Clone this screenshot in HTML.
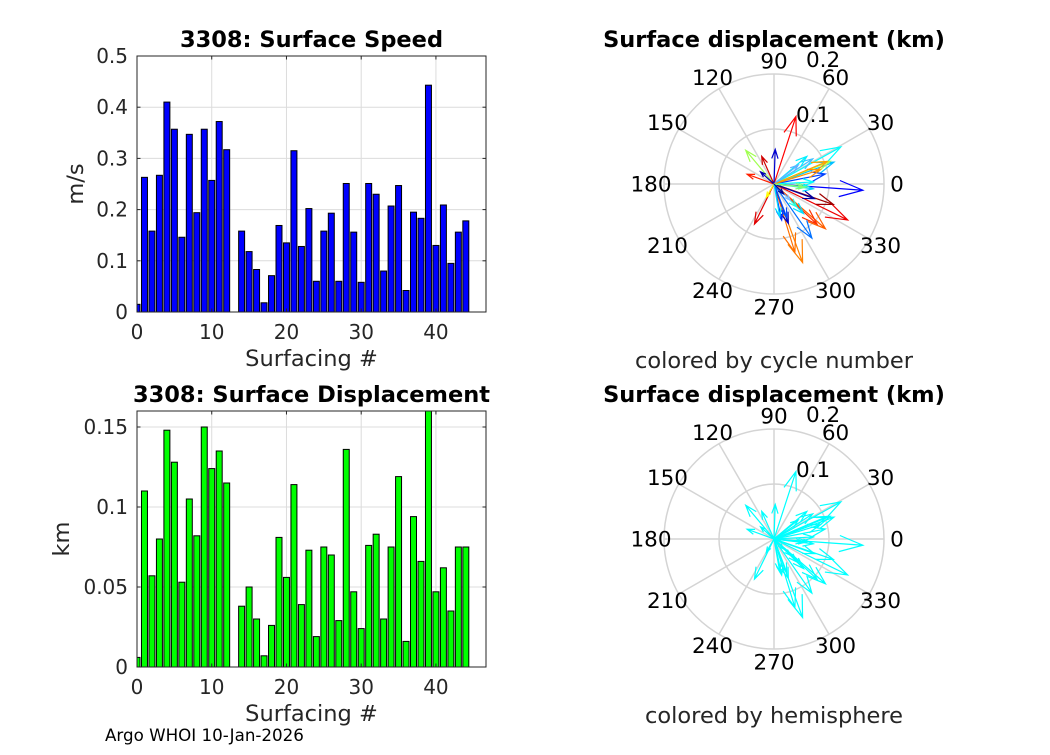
<!DOCTYPE html>
<html><head><meta charset="utf-8"><style>
body{margin:0;background:#fff;}
svg text{font-family:"DejaVu Sans","Liberation Sans",sans-serif;}
</style></head><body>
<svg id="fig" width="1050" height="750" xmlns="http://www.w3.org/2000/svg"></svg>
<script>
const cycles=[0,1,2,3,4,5,6,7,8,9,10,11,12,14,15,16,17,18,19,20,21,22,23,24,25,26,27,28,29,30,31,32,33,34,35,36,37,38,39,40,41,42,43,44];
const speeds=[0.015,0.263,0.158,0.267,0.41,0.357,0.146,0.347,0.194,0.357,0.257,0.372,0.317,0.158,0.118,0.083,0.018,0.071,0.169,0.135,0.315,0.128,0.202,0.06,0.158,0.193,0.06,0.251,0.156,0.058,0.251,0.23,0.08,0.207,0.247,0.042,0.195,0.183,0.443,0.13,0.209,0.095,0.156,0.178];
const disps=[0.006,0.110,0.057,0.080,0.148,0.128,0.053,0.105,0.082,0.150,0.124,0.135,0.115,0.038,0.050,0.030,0.007,0.026,0.081,0.056,0.114,0.039,0.073,0.019,0.075,0.070,0.029,0.136,0.047,0.024,0.076,0.083,0.030,0.075,0.119,0.016,0.094,0.066,0.160,0.047,0.062,0.035,0.075,0.075];
const speedTicks=[0,0.1,0.2,0.3,0.4,0.5];
const dispTicks=[0,0.05,0.1,0.15];
const xTicks=[0,10,20,30,40];
const arrowAng=[72,-4,-26,-70,-73,-41,-43,-55,-19,-20,-70,-78,-45,29,20,22,23,11,33,40,-7,-5,130,114,88,160,138,244,240,-45,-69,38,3,-45,17,-80,-6,-46];
const arrowMag=[0.129,0.162,0.149,0.152,0.13,0.124,0.107,0.12,0.114,0.078,0.076,0.067,0.076,0.139,0.116,0.11,0.105,0.095,0.084,0.078,0.072,0.06,0.08,0.055,0.063,0.052,0.033,0.081,0.028,0.059,0.065,0.056,0.072,0.042,0.088,0.06,0.054,0.025];
const arrowCol=["#ff0000","#0000ff","#ee0000","#ff8000","#ff7000","#ff6000","#ff3000","#0070ff","#a00000","#0000a0","#0000c0","#0030ff","#00e0ff","#00ffff","#00c0ff","#b0ff40","#ffa000","#0040ff","#40c0ff","#00f0ff","#00d0ff","#60ff90","#a0ff50","#d00000","#0000d0","#ff2000","#0000b0","#e00000","#ffff00","#20ffe0","#0050ff","#60b0ff","#00ffff","#80c0ff","#ff9000","#00e0ff","#80ff70","#000090"];
const radTicks=[0.1,0.2];
const NS="http://www.w3.org/2000/svg";
const svg=document.getElementById('fig');
function el(tag,attrs,parent,txt){const e=document.createElementNS(NS,tag);for(const k in attrs)e.setAttribute(k,attrs[k]);if(txt!==undefined)e.textContent=txt;(parent||svg).appendChild(e);return e;}

function barChart(name,L,T,R,B,ymax,vals,ticks,fill,title,ylab,ylabX,fmt){
  const g=el('g',{},svg);
  
  
  const xmax=46.7;
  const xs=v=>L+v/xmax*(R-L), ys=v=>B-v/ymax*(B-T);
  xTicks.forEach(t=>{const l=el('line',{x1:xs(t),x2:xs(t),y1:T,y2:B,stroke:'#dcdcdc','stroke-width':1},g);});
  ticks.forEach(t=>{const l=el('line',{x1:L,x2:R,y1:ys(t),y2:ys(t),stroke:'#dcdcdc','stroke-width':1},g);});
  const cg=el('g',{'clip-path':'url(#clip-'+name+')'},g);
  const cp=el('clipPath',{id:'clip-'+name},g);el('rect',{x:L,y:T-1,width:R-L,height:B-T+1},cp);
  vals.forEach((v,i)=>{const c=cycles[i];const r=el('rect',{x:xs(c-0.4),y:ys(v),width:xs(0.8)-L,height:B-ys(v),fill:fill,stroke:'#000','stroke-width':1},cg);
    
    });
  el('rect',{x:L,y:T,width:R-L,height:B-T,fill:'none',stroke:'#262626','stroke-width':1},g);
  xTicks.forEach(t=>{el('line',{x1:xs(t),x2:xs(t),y1:B,y2:B-3.5,stroke:'#262626'},g);el('line',{x1:xs(t),x2:xs(t),y1:T,y2:T+3.5,stroke:'#262626'},g);
    const tx=el('text',{x:xs(t),y:B+27,'text-anchor':'middle','font-size':20,fill:'#262626'},g,String(t));});
  ticks.forEach(t=>{el('line',{x1:L,x2:L+3.5,y1:ys(t),y2:ys(t),stroke:'#262626'},g);el('line',{x1:R,x2:R-3.5,y1:ys(t),y2:ys(t),stroke:'#262626'},g);
    const tx=el('text',{x:L-9,y:ys(t)+7,'text-anchor':'end','font-size':20,fill:'#262626'},g,fmt(t));});
  const tt=el('text',{x:(L+R)/2,y:T-9,'text-anchor':'middle','font-size':22.5,'font-weight':'bold',fill:'#000'},g,title);
  const xl=el('text',{x:(L+R)/2,y:B+54,'text-anchor':'middle','font-size':22.5,fill:'#262626'},g,'Surfacing #');
  const yl=el('text',{x:0,y:0,'text-anchor':'middle','font-size':22.5,fill:'#262626',transform:`translate(${ylabX},${(T+B)/2}) rotate(-90)`},g,ylab);
}
barChart('speed-chart',137,56,486,312,0.5,speeds,speedTicks,'#0000ff','3308: Surface Speed','m/s',83,t=>String(t));
barChart('displacement-chart',137,411,486,667,0.16,disps,dispTicks,'#00ff00','3308: Surface Displacement','km',69,t=>String(t));

function polar(name,cx,cy,single,subtitle){
  const g=el('g',{},svg);
  
  
  const R=110, rmax=0.2, sc=R/rmax;
  radTicks.forEach(r=>{const c=el('circle',{cx:cx,cy:cy,r:r*sc,fill:'none',stroke:'#d4d4d4','stroke-width':1.5},g);});
  for(let a=0;a<360;a+=30){const rad=a*Math.PI/180;
    el('line',{x1:cx,y1:cy,x2:cx+R*Math.cos(rad),y2:cy-R*Math.sin(rad),stroke:'#d4d4d4','stroke-width':1.5},g);
    const lr=123;const t=el('text',{x:cx+lr*Math.cos(rad),y:cy-lr*Math.sin(rad)+7.5,'text-anchor':'middle','font-size':21.5,fill:'#000'},g,String(a));
    }
  const r1=el('text',{x:cx+22,y:cy-62,'font-size':21.5,fill:'#000'},g,'0.1');
  const r2=el('text',{x:cx+32,y:cy-117,'font-size':21.5,fill:'#000'},g,'0.2');
  arrowAng.forEach((a,i)=>{const rad=a*Math.PI/180,m=arrowMag[i]*sc;
    const ex=cx+m*Math.cos(rad),ey=cy-m*Math.sin(rad);const col=single||arrowCol[i];
    const hl=Math.max(6,m*0.28),ha=0.33;
    const p1x=ex-hl*Math.cos(rad-ha),p1y=ey+hl*Math.sin(rad-ha),p2x=ex-hl*Math.cos(rad+ha),p2y=ey+hl*Math.sin(rad+ha);
    const p=el('path',{d:`M${cx},${cy}L${ex},${ey}M${p1x},${p1y}L${ex},${ey}L${p2x},${p2y}`,fill:'none',stroke:col,'stroke-width':1.2},g);
    
    });
  const tt=el('text',{x:cx,y:cy-137,'text-anchor':'middle','font-size':22.5,'font-weight':'bold',fill:'#000'},g,'Surface displacement (km)');
  const st=el('text',{x:cx,y:cy+184,'text-anchor':'middle','font-size':22.5,fill:'#262626'},g,subtitle);
}
polar('polar-cycle',774,184,null,'colored by cycle number');
polar('polar-hemisphere',774,539,'#00ffff','colored by hemisphere');
const ft=el('text',{x:105,y:741,'font-size':16.7,fill:'#000'},svg,'Argo WHOI 10-Jan-2026');


</script>
</body></html>
